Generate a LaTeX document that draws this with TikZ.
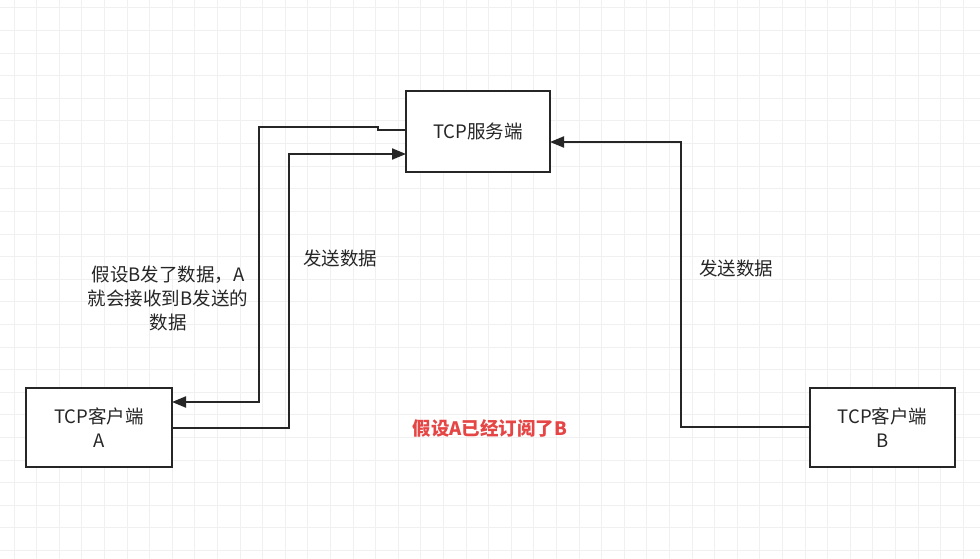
\documentclass[tikz,border=0pt]{standalone}
\usepackage{fontspec}
\setmainfont{Noto Sans CJK SC}
\usetikzlibrary{arrows.meta}
\begin{document}
\begin{tikzpicture}[x=1pt,y=-1pt,
  box/.style={draw=black!85,line width=2pt,fill=white,inner sep=0},
  conn/.style={draw=black!85,line width=2pt},
  arr/.style={conn,-{Triangle[length=14pt,width=11pt]}},
  lbl/.style={font=\fontsize{18.5}{24}\selectfont,text=black!85,align=center}]
\useasboundingbox (0,0) rectangle (980,559);
\fill[white] (0,0) rectangle (980,559);
\foreach \i in {0,...,43} {\draw[black!6,line width=1pt] (14+\i*22.6,0) -- (14+\i*22.6,559);}
\foreach \i in {0,...,25} {\draw[black!6,line width=1pt] (0,8+\i*22.6) -- (980,8+\i*22.6);}
\node[box,minimum width=144pt,minimum height=81pt] (srv) at (478,131.5) {};
\node[lbl] at (srv) {TCP服务端};
\node[box,minimum width=146pt,minimum height=79pt] (ca) at (99,427.5) {};
\node[lbl] at (ca) {TCP客户端\\A};
\node[box,minimum width=145pt,minimum height=79pt] (cb) at (882.5,427.5) {};
\node[lbl] at (cb) {TCP客户端\\B};
\coordinate (s1) at (406,130);
\coordinate (a1) at (172,402);
\coordinate (a2) at (172,428);
\coordinate (s2) at (406,154);
\coordinate (b1) at (810,427);
\coordinate (s3) at (550,142);
\draw[arr] (s1) -- (378,130) -- (378,127) -- (259,127) -- (259,402) -- (a1);
\draw[arr] (a2) -- (289,428) -- (289,154) -- (s2);
\draw[arr] (b1) -- (681,427) -- (681,142) -- (s3);
\node[lbl] (t1) at (168,298) {假设B发了数据，A\\就会接收到B发送的\\数据};
\node[lbl] (t2) at (340,258) {发送数据};
\node[lbl] (t3) at (736,268) {发送数据};
\node[lbl,text={rgb,255:red,230;green,69;blue,69},font=\fontsize{18.5}{24}\selectfont\bfseries] (t4) at (490,428) {假设A已经订阅了B};
\end{tikzpicture}
\end{document}
